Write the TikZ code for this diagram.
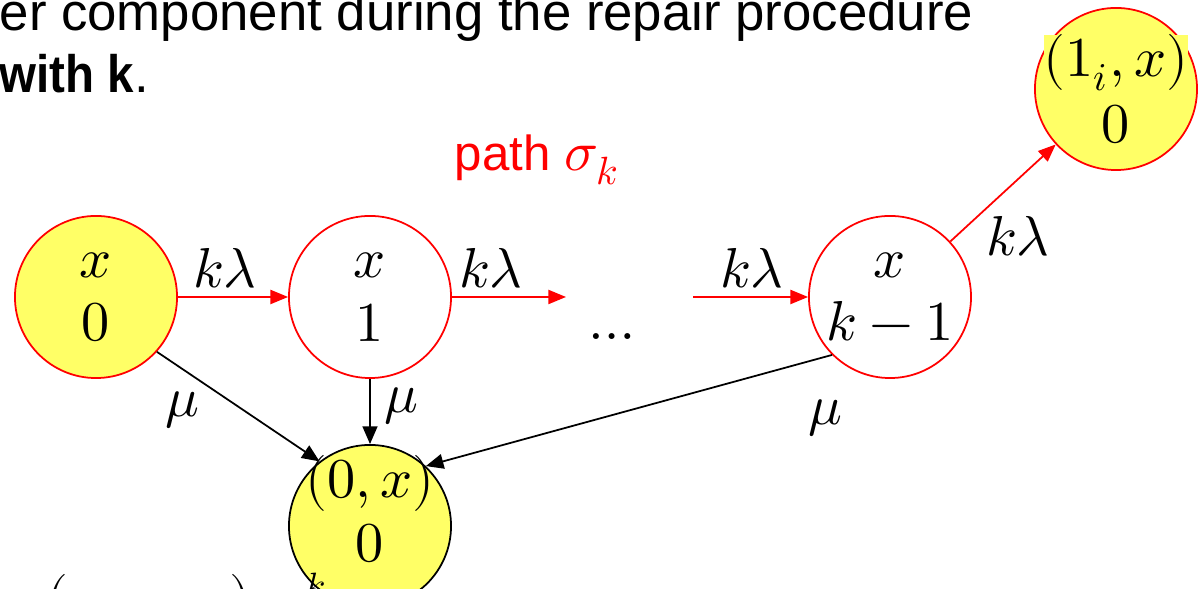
\documentclass[tikz,border=0pt]{standalone}
\usepackage{fontspec}
\setmainfont{Liberation Sans}
\usepackage{amsmath}
\usepackage{unicode-math}
\setmathfont{Latin Modern Math}
\usetikzlibrary{arrows.meta, positioning}
\definecolor{mred}{HTML}{FF0000}
\definecolor{myellow}{HTML}{FFFF66}
\tikzset{
  state/.style={circle, draw=mred, line width=0.5pt, minimum size=1.62cm,
                inner sep=0pt, align=center,
                font=\fontsize{16}{18}\selectfont},
  ystate/.style={state, fill=myellow},
  bstate/.style={state, draw=black, fill=myellow},
  rarr/.style={-{Triangle[length=5pt, width=4pt]}, mred, line width=0.5pt},
  barr/.style={-{Triangle[length=5pt, width=4.2pt]}, black, line width=0.5pt},
  rate/.style={font=\fontsize{16}{18}\selectfont, inner sep=0pt},
}

\begin{document}
\begin{tikzpicture}[x=0.01cm, y=-0.01cm]
    \clip (0,0) rectangle (1199,589);
    \fill[white] (0,0) rectangle (1199,589);

    % slide text, cut off by the frame
    \node[anchor=base west, inner sep=0pt, font=\fontsize{15}{18}\selectfont] (line1) at (-1, 31)
      {er component during the repair procedure};
    \node[anchor=base west, inner sep=0pt, font=\fontsize{15}{18}\selectfont] (line2) at (-1, 93)
      {\scalebox{0.9}[1]{\bfseries with k}.};
    \node[text=mred, font=\fontsize{14}{16}\selectfont, inner sep=0pt] (path) at (537, 160)
      {path {\fontsize{16}{18}\selectfont$\sigma_k$}};

    % states
    \node[ystate] (s0) at (96, 297) {$x$\\$0$};
    \node[state] (s1) at (370, 297) {$x$\\$1$};
    \node[state] (sk) at (890, 297) {$x$\\$k-1$};
    \node[bstate] (rep) at (370, 526) {};
    \node[rate, align=center] (reptxt) at (370, 509) {$(0,x)$\\$0$};
    \node[ystate] (fail) at (1116, 89) {};
    \node[fill=myellow, inner sep=1pt, rate] (failtop) at (1116, 63) {$(1_i,x)$};
    \node[rate] (failbot) at (1116, 124) {$0$};

    \coordinate (c1) at (566, 297);
    \coordinate (c2) at (693, 297);
    \node[rate] (dots) at (612, 337) {$\ldots$};

    % red path
    \draw[rarr] (s0) -- (s1);
    \draw[rarr] (s1) -- (c1);
    \draw[rarr] (c2) -- (sk);
    \draw[rarr] (sk) -- (fail);
    \node[rate] (l1) at (225, 268) {$k\lambda$};
    \node[rate] (l2) at (491, 268) {$k\lambda$};
    \node[rate] (l3) at (752, 268) {$k\lambda$};
    \node[rate] (l4) at (1018, 236) {$k\lambda$};

    % repairs
    \draw[barr] (s0.-42) -- (rep.128);
    \draw[barr] (s1) -- (rep);
    \draw[barr] (sk.225) -- (rep.47);
    \node[rate] (m1) at (182, 410) {$\mu$};
    \node[rate] (m2) at (401, 406) {$\mu$};
    \node[rate] (m3) at (825, 418) {$\mu$};

    % next line, mostly below the frame
    \node[rate, anchor=base] (b1) at (57, 617) {$($};
    \node[rate, anchor=base] (b2) at (240, 617) {$)$};
    \node[font=\fontsize{10}{12}\selectfont, inner sep=0pt, anchor=base] (b3) at (316, 598) {$k$};
\end{tikzpicture}
\end{document}
